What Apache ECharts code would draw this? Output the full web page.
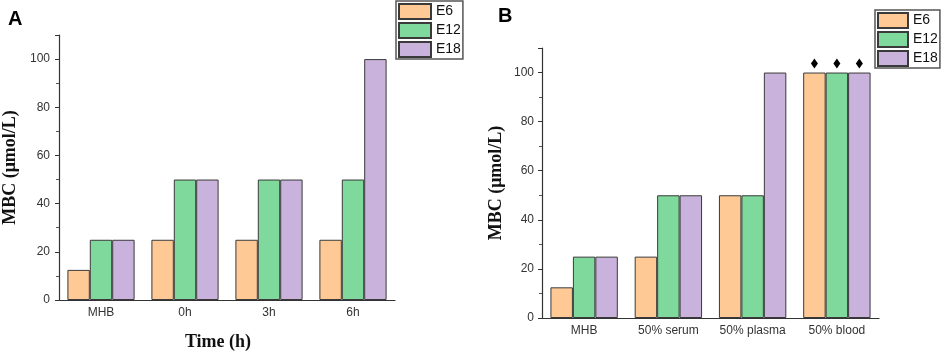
<!DOCTYPE html>
<html>
<head>
<meta charset="utf-8">
<script src="https://cdn.jsdelivr.net/npm/echarts@6/dist/echarts.min.js"></script>
<style>
  html, body { margin: 0; padding: 0; background: #fff; }
  #chart { width: 941px; height: 356px; }
</style>
</head>
<body>
<div id="chart"></div>
<script>
// panel A
const categoriesA = ['MHB', '0h', '3h', '6h']
const e6A = [12.5, 25, 25, 25]
const e12A = [25, 50, 50, 50]
const e18A = [25, 50, 50, 100]

// panel B
const categoriesB = ['MHB', '50% serum', '50% plasma', '50% blood']
const e6B = [12.5, 25, 50, 100]
const e12B = [25, 50, 50, 100]
const e18B = [25, 50, 100, 100]
const markedCategory = '50% blood'
const markedValue = 100

const seriesNames = ['E6', 'E12', 'E18']
const yTicks = [0, 20, 40, 60, 80, 100]

const colors = ['#FFC996', '#7FD99C', '#C9B2DB']
const axisColor = '#333'

const chart = echarts.init(document.getElementById('chart'))

function yAxis(gridIndex, name, gap, labelMargin) {
  return {
    type: 'value', gridIndex, min: 0, max: 110, interval: 20,
    name, nameLocation: 'middle', nameGap: gap,
    nameTextStyle: { fontFamily: '"Liberation Serif", serif', fontWeight: 'bold', fontSize: 18, color: '#111' },
    axisLine: { show: true, lineStyle: { color: axisColor, width: 1.2 } },
    axisTick: { show: true, length: 4, lineStyle: { color: axisColor } },
    minorTick: { show: true, splitNumber: 2, length: 3, lineStyle: { color: '#555' } },
    splitLine: { show: false },
    axisLabel: {
      color: '#333', fontSize: 12, fontFamily: 'Liberation Sans, Arial', margin: labelMargin,
      formatter: v => (yTicks.includes(v) ? String(v) : '')
    }
  }
}

function xAxes(gridIndex, data) {
  return [
    {
      type: 'category', gridIndex, data, position: 'bottom',
      axisLine: { lineStyle: { color: axisColor, width: 1.2 } },
      axisTick: { alignWithLabel: true, length: 4, lineStyle: { color: axisColor } },
      axisLabel: { interval: 0, color: '#333', fontSize: 12, fontFamily: 'Liberation Sans, Arial', margin: 7 }
    },
    {
      // boundary ticks (inside)
      type: 'category', gridIndex, data, position: 'bottom', offset: 0,
      axisLine: { show: false },
      axisTick: { inside: true, length: 3, lineStyle: { color: axisColor } },
      axisLabel: { show: false }
    }
  ]
}

function bars(xAxisIndex, yAxisIndex, arrays, marked) {
  return arrays.map((arr, i) => {
    const s = {
      name: seriesNames[i], type: 'bar', xAxisIndex, yAxisIndex, data: arr,
      barCategoryGap: '20%', barGap: '0%',
      itemStyle: { color: colors[i], borderColor: '#3a3a3a', borderWidth: 1 }
    }
    if (marked) {
      s.markPoint = {
        symbol: 'diamond', symbolSize: [7, 10], symbolOffset: [0, -9],
        itemStyle: { color: '#000', borderWidth: 0 },
        label: { show: false },
        data: [{ coord: [markedCategory, markedValue] }]
      }
    }
    return s
  })
}

const legendBase = {
  orient: 'vertical', icon: 'rect', itemHeight: 15, itemGap: 2,
  data: seriesNames,
  borderColor: '#555', borderWidth: 1.5,
  textStyle: { fontSize: 14, color: '#111', fontFamily: 'Liberation Sans, Arial' },
  selectedMode: false
}

const option = {
  animation: false,
  title: [
    { text: 'A', left: 3, top: 4, textStyle: { fontSize: 20, fontWeight: 'bold', color: '#000', fontFamily: 'Liberation Sans, Arial' } },
    { text: 'B', left: 493, top: 1, textStyle: { fontSize: 20, fontWeight: 'bold', color: '#000', fontFamily: 'Liberation Sans, Arial' } }
  ],
  legend: [
    Object.assign({}, legendBase, { left: 396, top: 1, itemWidth: 32, padding: [2, 2, 1, 2] }),
    Object.assign({}, legendBase, { left: 875, top: 10, itemWidth: 30, padding: [2, 2, 1, 2] })
  ],
  grid: [
    { left: 51, top: 35, width: 344, height: 277 },
    { left: 542, top: 48, width: 337, height: 270 }
  ],
  xAxis: xAxes(0, categoriesA).concat(xAxes(1, categoriesB)).map((ax, i) => {
    if (i === 0) {
      Object.assign(ax, {
        name: 'Time (h)', nameLocation: 'middle', nameGap: 33,
        nameTextStyle: { fontFamily: '"Liberation Serif", serif', fontWeight: 'bold', fontSize: 18, color: '#111', padding: [0, 18, 0, 0] }
      })
    }
    return ax
  }),
  yAxis: [
    yAxis(0, 'MBC (μmol/L)', 40, 9),
    yAxis(1, 'MBC (μmol/L)', 37, 8)
  ],
  series: bars(0, 0, [e6A, e12A, e18A], false).concat(bars(2, 1, [e6B, e12B, e18B], true))
}

chart.setOption(option)
</script>
</body>
</html>
